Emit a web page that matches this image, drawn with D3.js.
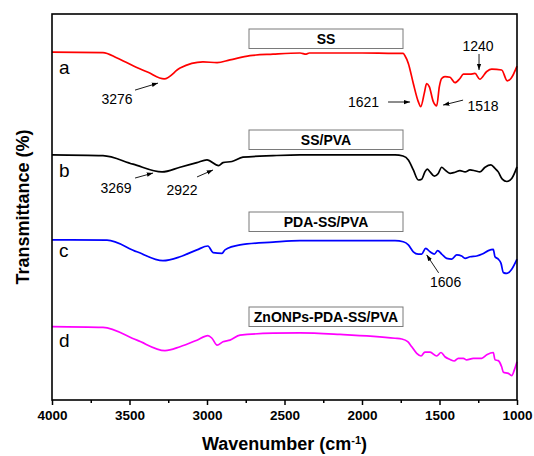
<!DOCTYPE html>
<html><head><meta charset="utf-8">
<script src="https://cdn.jsdelivr.net/npm/d3@7"></script>
<style>body{margin:0;background:#fff}svg{display:block;font-family:"Liberation Sans",Arial,sans-serif}</style>
</head><body>
<svg id="c" width="534" height="456"></svg>
<script>
// ---- data: [wavenumber (cm-1), transmittance (a.u., offset stacked)] ----
const seriesNames = ["SS", "SS/PVA", "PDA-SS/PVA", "ZnONPs-PDA-SS/PVA"];
const seriesLetters = ["a", "b", "c", "d"];
const seriesColors = ["#ff0000", "#000000", "#0000ff", "#ff00ff"];

const specSS = [
  [4000,90.1],[3671,90.0],[3580,88.6],[3477,86.6],[3380,84.9],[3276,83.2],[3174,86.0],[3026,87.6],[2935,87.4],[2852,88.1],
  [2723,89.2],[2574,89.6],[2400,89.9],[2360,89.6],[2340,89.9],[2000,89.9],[1787,89.8],[1735,89.8],
  [1723,89.2],[1701,87.2],[1669,82.0],[1637,77.3],[1621,76.0],[1598,79.5],[1583,82.0],
  [1566,81.2],[1540,77.3],[1518,76.2],[1501,81.2],[1486,83.3],[1465,83.8],[1432,83.6],
  [1400,82.2],[1368,83.3],[1346,84.4],[1303,84.4],[1271,84.6],[1240,83.1],[1195,85.1],
  [1163,85.7],[1099,85.5],[1063,82.7],[1039,83.3],[1000,86.5]
];
const specSSPVA = [
  [4000,63.5],[3671,63.3],[3477,61.1],[3290,59.1],[3174,60.3],[3065,61.5],[3000,62.2],
  [2925,60.7],[2897,61.5],[2839,61.8],[2768,62.9],[2574,63.3],[2400,63.5],[1787,63.5],
  [1735,63.2],[1701,62.2],[1669,59.6],[1637,57.0],[1615,57.2],[1594,59.1],[1579,59.8],
  [1561,59.1],[1533,58.0],[1508,58.7],[1486,60.3],[1465,59.6],[1432,58.7],[1400,59.0],
  [1368,59.4],[1335,59.1],[1303,59.6],[1271,59.4],[1239,59.1],[1206,60.3],[1168,60.9],
  [1142,60.0],[1121,59.1],[1095,57.2],[1066,56.6],[1034,57.4],[1000,60.4]
];
const specPDA = [
  [4000,41.5],[3645,41.4],[3452,38.4],[3284,36.1],[3174,37.1],[3065,38.9],[2994,39.9],
  [2961,38.2],[2903,38.0],[2884,38.9],[2787,40.2],[2574,40.9],[2400,41.3],[1787,41.3],
  [1734,41.0],[1701,40.2],[1669,38.4],[1637,37.8],[1615,37.8],[1589,39.3],[1561,38.4],
  [1533,37.8],[1512,38.7],[1486,37.8],[1454,36.7],[1421,36.5],[1389,37.6],[1357,37.3],
  [1335,36.7],[1303,37.1],[1260,37.3],[1224,37.8],[1185,38.7],[1153,39.0],[1142,37.1],
  [1121,36.5],[1103,35.4],[1088,33.0],[1066,32.8],[1034,33.9],[1000,36.5]
];
const specZnO = [
  [4000,19.0],[3671,18.8],[3452,15.5],[3271,12.8],[3174,13.8],[3065,15.5],[2994,16.7],
  [2968,16.0],[2935,14.2],[2897,15.1],[2852,15.5],[2787,16.8],[2574,17.3],[2400,17.4],
  [2142,17.0],[1787,16.0],[1744,15.8],[1705,15.1],[1679,13.8],[1647,12.1],[1619,11.4],
  [1594,12.4],[1561,12.4],[1518,11.4],[1490,12.3],[1465,11.2],[1432,10.5],[1405,10.1],
  [1379,10.8],[1346,10.8],[1325,10.4],[1282,10.8],[1228,10.8],[1195,11.7],[1153,12.3],
  [1142,10.4],[1121,10.2],[1099,8.6],[1088,7.2],[1056,6.9],[1034,6.3],[1017,7.8],[1000,9.9]
];
const spectra = [specSS, specSSPVA, specPDA, specZnO];

const xTicks = [4000, 3500, 3000, 2500, 2000, 1500, 1000];
const xMinorTicks = [3750, 3250, 2750, 2250, 1750, 1250];

// peak annotations: label, arrow tip (wavenumber, T)
const peakLabels = ["3276", "3269", "2922", "1621", "1518", "1240", "1606"];
const peakTips = [[3316,82.1],[3348,58.8],[2961,59.6],[1690,77.2],[1477,76.4],[1245,85.5],[1583,37.6]];
// layout offsets (px) for arrow tail and text, relative to tip
const peakLayout = [
  {tx:-23,ty:7, lx:-41,ly:21},
  {tx:-18,ty:5, lx:-37,ly:20},
  {tx:-16,ty:7, lx:-31,ly:25},
  {tx:-22,ty:0, lx:-46.5,ly:4.5},
  {tx:20,ty:-5, lx:40,ly:6},
  {tx:0,ty:-16, lx:-1,ly:-18.5},
  {tx:12,ty:18, lx:19,ly:32.5}
];
// layout: name boxes (top y) and letter baselines
const boxTops = [29, 130, 212, 307];
const letterY = [74, 177, 257, 347];

// ---- chart ----
const W = 534, H = 456;
const m = {l:52, t:14, r:17, b:56};
const svg = d3.select("#c");
const x = d3.scaleLinear().domain([4000, 1000]).range([m.l, W - m.r]);
const y = d3.scaleLinear().domain([0, 100]).range([H - m.b, m.t]);

svg.append("defs").append("marker")
  .attr("id","ah").attr("viewBox","0 0 10 10").attr("refX",10).attr("refY",5)
  .attr("markerWidth",7).attr("markerHeight",7).attr("orient","auto")
  .append("path").attr("d","M0,1.5L10,5L0,8.5Z").attr("fill","#000");

const line = d3.line().x(d => x(d[0])).y(d => y(d[1])).curve(d3.curveMonotoneX);

svg.append("g").selectAll("path").data(spectra).join("path")
  .attr("d", line).attr("fill","none")
  .attr("stroke", (d,i) => seriesColors[i]).attr("stroke-width", 1.7)
  .attr("stroke-linejoin","round");

// name boxes
const bx0 = 249, bx1 = 403, bh = 19.5;
const boxes = svg.append("g");
seriesNames.forEach((n,i) => {
  boxes.append("rect").attr("x",bx0).attr("y",boxTops[i]).attr("width",bx1-bx0).attr("height",bh)
    .attr("fill","#fff").attr("stroke","#7a7a7a").attr("stroke-width",1);
  boxes.append("text").attr("x",(bx0+bx1)/2).attr("y",boxTops[i]+bh/2+5)
    .attr("text-anchor","middle").attr("font-weight","bold").attr("font-size",14).text(n);
});

// letters
svg.append("g").selectAll("text").data(seriesLetters).join("text")
  .attr("x", 59).attr("y", (d,i) => letterY[i]).attr("font-size", 19).text(d => d);

// peak annotations
const ann = svg.append("g");
peakLabels.forEach((t,i) => {
  const px = x(peakTips[i][0]), py = y(peakTips[i][1]), L = peakLayout[i];
  ann.append("line").attr("x1",px+L.tx).attr("y1",py+L.ty).attr("x2",px).attr("y2",py)
    .attr("stroke","#000").attr("stroke-width",0.9).attr("marker-end","url(#ah)");
  ann.append("text").attr("x",px+L.lx).attr("y",py+L.ly).attr("text-anchor","middle")
    .attr("font-size",14).text(t);
});

// axes
const gx = svg.append("g").attr("transform",`translate(0,${H-m.b})`)
  .call(d3.axisBottom(x).tickValues(xTicks).tickSize(5).tickPadding(5).tickFormat(d3.format("d")));
gx.select(".domain").remove();
gx.selectAll("line").attr("stroke-width",1.5);
gx.selectAll("text").attr("font-size",13.5).attr("font-weight","bold").attr("font-family","Liberation Sans, Arial, sans-serif").attr("fill","#000");
const gm = svg.append("g").attr("transform",`translate(0,${H-m.b})`)
  .call(d3.axisBottom(x).tickValues(xMinorTicks).tickSize(3).tickFormat(""));
gm.select(".domain").remove();
gm.selectAll("line").attr("stroke-width",1.5);

svg.append("rect").attr("x",m.l).attr("y",m.t).attr("width",W-m.l-m.r).attr("height",H-m.t-m.b)
  .attr("fill","none").attr("stroke","#000").attr("stroke-width",1.6);

// axis titles
const xt = svg.append("text").attr("x",(m.l + W - m.r)/2).attr("y",450)
  .attr("text-anchor","middle").attr("font-weight","bold").attr("font-size",18);
xt.append("tspan").text("Wavenumber (cm");
xt.append("tspan").attr("font-size",11).attr("dy",-6).text("-1");
xt.append("tspan").attr("dy",6).text(")");

svg.append("text").attr("transform",`translate(29,${(m.t + H - m.b)/2}) rotate(-90)`)
  .attr("text-anchor","middle").attr("font-weight","bold").attr("font-size",18).text("Transmittance (%)");
</script>
</body></html>
